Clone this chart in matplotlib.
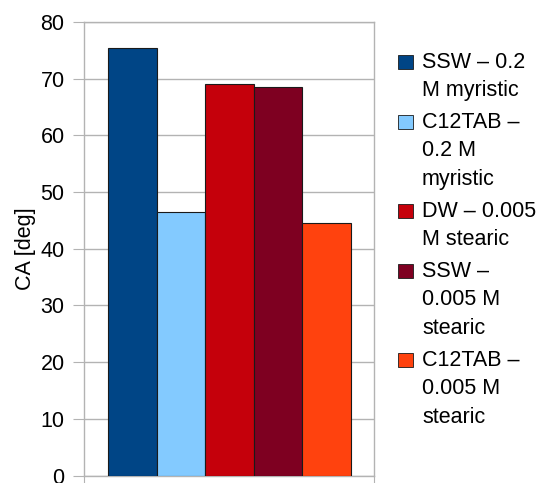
import matplotlib
matplotlib.use("Agg")
import matplotlib.pyplot as plt
from matplotlib.patches import Rectangle

# data
values = [75.5, 46.5, 69.0, 68.5, 44.5]
labels = [["SSW \u2013 0.2", "M myristic"],
          ["C12TAB \u2013", "0.2 M", "myristic"],
          ["DW \u2013 0.005", "M stearic"],
          ["SSW \u2013", "0.005 M", "stearic"],
          ["C12TAB \u2013", "0.005 M", "stearic"]]
colors = ["#004586", "#83caff", "#c5000b", "#7e0021", "#ff420e"]
yticks = [0, 10, 20, 30, 40, 50, 60, 70, 80]

plt.rcParams['font.family'] = ['Liberation Sans', 'DejaVu Sans']
FS = 15.5
W, H = 536, 483
fig = plt.figure(figsize=(W / 100, H / 100), dpi=100)
ax = fig.add_axes([84 / W, 1 - 475.5 / H, (374 - 84) / W, (475.5 - 22) / H])

xs = list(range(len(values)))
ax.bar(xs, values, width=1.0, color=colors, edgecolor="#1a1a1a", linewidth=0.8, zorder=3)
ax.set_xlim(-0.994, 4.973)
ax.set_ylim(0, 80)
ax.set_yticks(yticks)
ax.yaxis.grid(True, color="#b3b3b3", linewidth=1.0, zorder=0)
ax.tick_params(axis='y', length=8, color="#b3b3b3", labelsize=FS, pad=6)
ax.set_xticks([-0.994, 4.973])
ax.set_xticklabels([])
ax.tick_params(axis='x', length=6, color="#b3b3b3")
for s in ax.spines.values():
    s.set_color("#b3b3b3")
    s.set_linewidth(1.0)
ax.set_ylabel("CA [deg]", fontsize=FS, labelpad=3)

# legend, drawn by hand to keep the wrapped labels
line_h = 28.5
gap = 3.3
y = 62.0
for lab, c in zip(labels, colors):
    fig.patches.append(Rectangle((398 / W, 1 - (y + 7) / H), 15 / W, 14 / H,
                                 transform=fig.transFigure, facecolor=c,
                                 edgecolor="#1a1a1a", linewidth=0.6))
    for i, line in enumerate(lab):
        fig.text(422 / W, 1 - (y + i * line_h) / H, line, fontsize=FS,
                 va='center', ha='left')
    y += len(lab) * line_h + gap

fig.savefig("out.png", dpi=100)
